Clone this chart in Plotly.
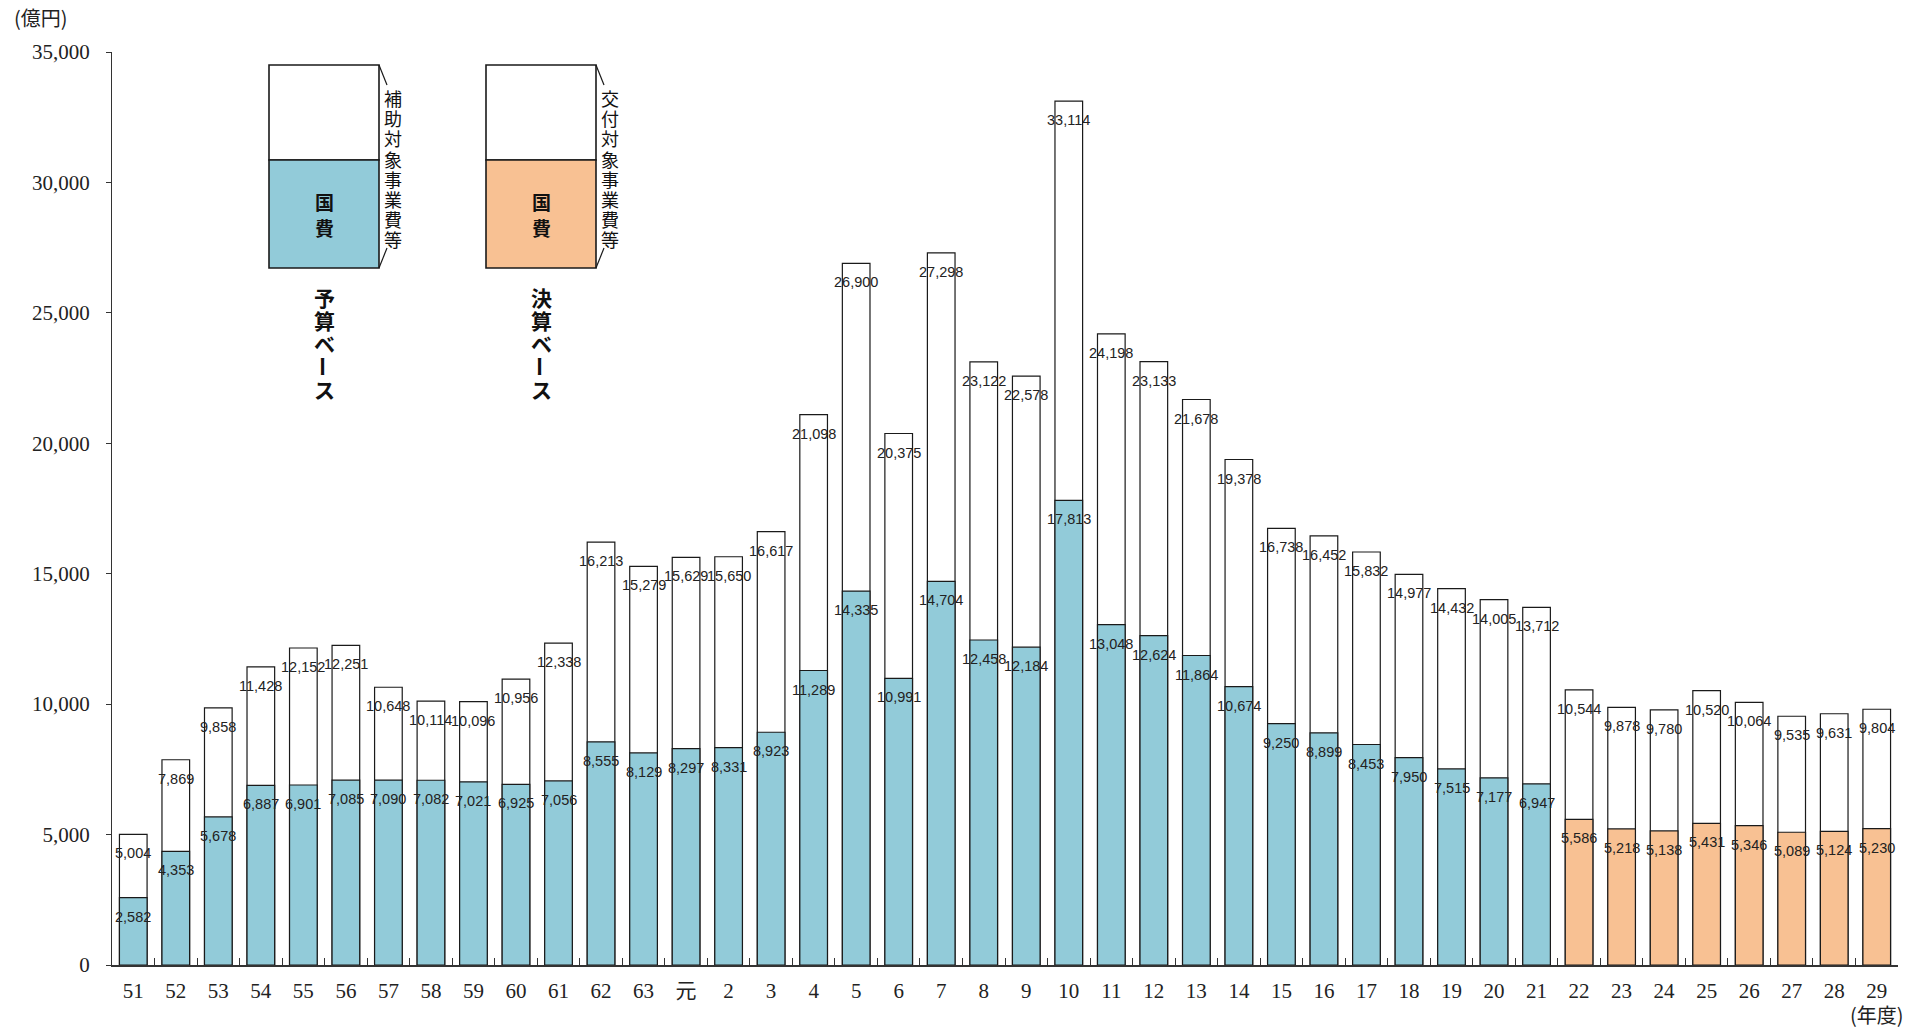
import plotly.graph_objects as go

# Fiscal years (Showa 51 - Heisei 29), amounts in 100 million yen
years = ["51", "52", "53", "54", "55", "56", "57", "58", "59", "60", "61", "62", "63",
         "元", "2", "3", "4", "5", "6", "7", "8", "9", "10", "11", "12", "13", "14",
         "15", "16", "17", "18", "19", "20", "21", "22", "23", "24", "25", "26", "27",
         "28", "29"]

# Subsidised / granted project costs (total)
project_costs = [5004, 7869, 9858, 11428, 12152, 12251, 10648, 10114, 10096, 10956,
                 12338, 16213, 15279, 15629, 15650, 16617, 21098, 26900, 20375, 27298,
                 23122, 22578, 33114, 24198, 23133, 21678, 19378, 16738, 16452, 15832,
                 14977, 14432, 14005, 13712, 10544, 9878, 9780, 10520, 10064, 9535,
                 9631, 9804]

# National government share
national_costs = [2582, 4353, 5678, 6887, 6901, 7085, 7090, 7082, 7021, 6925,
                  7056, 8555, 8129, 8297, 8331, 8923, 11289, 14335, 10991, 14704,
                  12458, 12184, 17813, 13048, 12624, 11864, 10674, 9250, 8899, 8453,
                  7950, 7515, 7177, 6947, 5586, 5218, 5138, 5431, 5346, 5089,
                  5124, 5230]

# Budget basis up to year 21, settlement basis from year 22
first_settlement_year = "22"

BUDGET_COLOR = "#92CBD9"
SETTLEMENT_COLOR = "#F8C193"
EDGE = "#1a1a1a"
TEXT = "#222222"
SERIF = "Liberation Serif, 'Noto Sans CJK JP', serif"
SANS = "'Liberation Sans', Arial, sans-serif"
CJK = "'Noto Sans CJK JP', sans-serif"

W, H = 1911, 1029
M_L, M_R, M_T, M_B = 112, 13, 52, 64
PW, PH = W - M_L - M_R, H - M_T - M_B

split = years.index(first_settlement_year)
bar_colors = [BUDGET_COLOR if i < split else SETTLEMENT_COLOR for i in range(len(years))]

fig = go.Figure()
fig.add_trace(go.Bar(
    x=years, y=project_costs, width=0.65,
    marker=dict(color="white", line=dict(color=EDGE, width=1.2)),
    hoverinfo="x+y", showlegend=False,
))
fig.add_trace(go.Bar(
    x=years, y=national_costs, width=0.65,
    marker=dict(color=bar_colors, line=dict(color=EDGE, width=1.2)),
    hoverinfo="x+y", showlegend=False,
))

annotations = []
# value labels just below the top of each bar (x given as category index)
for series in (project_costs, national_costs):
    for i, v in enumerate(series):
        annotations.append(dict(
            x=i, y=v, xref="x", yref="y", text=f"{v:,}", showarrow=False,
            xanchor="center", yanchor="middle", yshift=-19,
            font=dict(family=SANS, size=14.5, color=TEXT),
        ))


def px_x(px):
    return (px - M_L) / PW


def px_y(py):
    return (H - M_B - py) / PH


def vertical_text(text, cx, y0, step, size, bold=False):
    for i, ch in enumerate(text):
        label = f"<b>{ch}</b>" if bold else ch
        annotations.append(dict(
            x=px_x(cx), y=px_y(y0 + i * step), xref="paper", yref="paper",
            text=label, showarrow=False, xanchor="center", yanchor="middle",
            textangle=90 if ch == "ー" else 0,
            font=dict(family=CJK, size=size, color="#111111"),
        ))


shapes = []


def key_box(x0, fill, side_text, base_text):
    x1 = x0 + 110
    top, mid, bot = 65, 160, 268
    shapes.append(dict(type="rect", xref="paper", yref="paper",
                       x0=px_x(x0), x1=px_x(x1), y0=px_y(mid), y1=px_y(top),
                       fillcolor="white", line=dict(color=EDGE, width=1.6)))
    shapes.append(dict(type="rect", xref="paper", yref="paper",
                       x0=px_x(x0), x1=px_x(x1), y0=px_y(bot), y1=px_y(mid),
                       fillcolor=fill, line=dict(color=EDGE, width=1.6)))
    # bracket ticks framing the side caption
    shapes.append(dict(type="line", xref="paper", yref="paper",
                       x0=px_x(x1), y0=px_y(top), x1=px_x(x1 + 8), y1=px_y(top + 20),
                       line=dict(color=EDGE, width=1.2)))
    shapes.append(dict(type="line", xref="paper", yref="paper",
                       x0=px_x(x1 + 8), y0=px_y(bot - 20), x1=px_x(x1), y1=px_y(bot),
                       line=dict(color=EDGE, width=1.2)))
    cx = (x0 + x1) / 2
    vertical_text("国費", cx, 201, 27, 19, bold=True)
    vertical_text(side_text, x1 + 14, 98, 20.2, 18)
    vertical_text(base_text, cx, 297, 23, 21, bold=True)


key_box(269, BUDGET_COLOR, "補助対象事業費等", "予算ベース")
key_box(486, SETTLEMENT_COLOR, "交付対象事業費等", "決算ベース")

annotations.append(dict(x=px_x(12), y=px_y(18), xref="paper", yref="paper",
                        text="(億円)", showarrow=False, xanchor="left", yanchor="middle",
                        font=dict(family=CJK, size=20, color=TEXT)))
annotations.append(dict(x=px_x(1906), y=px_y(1014), xref="paper", yref="paper",
                        text="(年度)", showarrow=False, xanchor="right", yanchor="middle",
                        font=dict(family=CJK, size=20, color=TEXT)))

fig.update_layout(
    width=W, height=H,
    margin=dict(l=M_L, r=M_R, t=M_T, b=M_B, pad=0),
    barmode="overlay", bargap=0.35,
    plot_bgcolor="white", paper_bgcolor="white",
    showlegend=False,
    annotations=annotations, shapes=shapes,
    xaxis=dict(
        type="category", range=[-0.5, len(years) - 0.5],
        showline=True, linecolor="#333333", linewidth=1.5,
        ticks="inside", tickson="boundaries", ticklen=7, tickcolor="#333333",
        tickfont=dict(family=SERIF, size=21, color=TEXT),
        ticklabelstandoff=6, showgrid=False, zeroline=False,
    ),
    yaxis=dict(
        range=[0, 35000], tickvals=list(range(0, 35001, 5000)),
        tickformat=",d",
        showline=True, linecolor="#333333", linewidth=1.2,
        ticks="outside", ticklen=5, tickcolor="#333333",
        tickfont=dict(family=SERIF, size=21, color=TEXT),
        ticklabelstandoff=12, showgrid=False, zeroline=False,
    ),
)

fig.write_html("out.html")
